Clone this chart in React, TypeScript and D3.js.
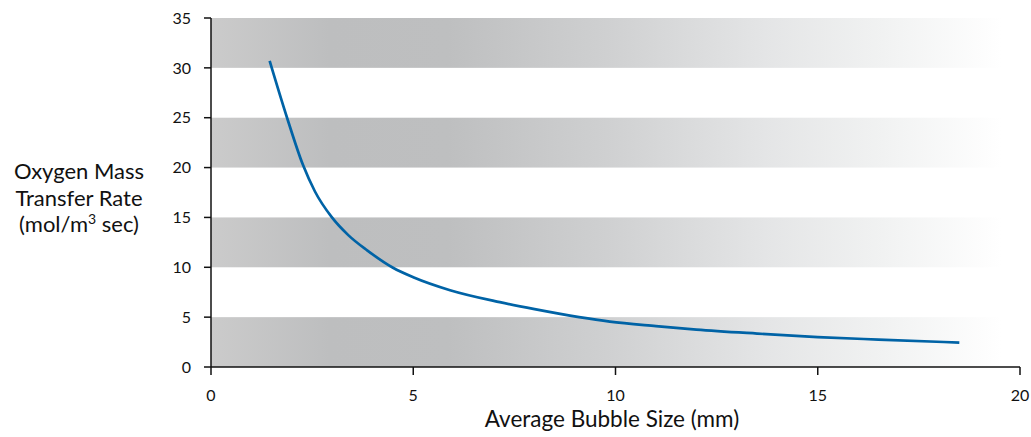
import React from "react";
import * as d3 from "d3";

const xTicks = [0, 5, 10, 15, 20];
const yTicks = [0, 5, 10, 15, 20, 25, 30, 35];
const bands: [number, number][] = [[0, 5], [10, 15], [20, 25], [30, 35]];
const bubbleSize = [1.45, 1.88, 2.27, 2.57, 2.99, 3.4, 3.86, 4.5, 5.0, 5.91, 7.14, 8.0, 9.1, 9.86, 11, 12, 13.5, 15, 16.5, 18.5];
const transferRate = [30.7, 25, 20.3, 17.6, 15, 13.2, 11.7, 9.95, 9.0, 7.7, 6.5, 5.8, 5.0, 4.55, 4.1, 3.75, 3.35, 3.0, 2.75, 2.45];
const gradStops: [number, string][] = [
  [0, "#cbcbcb"], [0.15, "#bdbebf"], [0.3, "#bebfc0"], [0.5, "#cfd0d1"],
  [0.7, "#e4e5e6"], [0.85, "#f1f2f2"], [1, "#ffffff"],
];

export default function App() {
  const W = 1031, H = 437;
  const x = d3.scaleLinear().domain([0, 20]).range([211, 1020]);
  const y = d3.scaleLinear().domain([0, 35]).range([367, 18]);
  const pts = bubbleSize.map((b, i) => [b, transferRate[i]] as [number, number]);
  const line = d3.line<[number, number]>().x(d => x(d[0])).y(d => y(d[1])).curve(d3.curveMonotoneX);
  const font = "Lato, 'Open Sans', sans-serif";
  const bandEnd = 19.55;
  return (
    <svg width={W} height={H} style={{ position: "absolute", left: 0, top: 0 }} fontFamily={font}>
      <defs>
        <linearGradient id="bandGrad" gradientUnits="userSpaceOnUse" x1={x(0)} x2={x(bandEnd)} y1={0} y2={0}>
          {gradStops.map(([o, c], i) => <stop key={i} offset={o} stopColor={c} />)}
        </linearGradient>
      </defs>
      {bands.map(([a, b], i) => (
        <rect key={i} x={x(0)} y={y(b)} width={x(bandEnd) - x(0)} height={y(a) - y(b)} fill="url(#bandGrad)" />
      ))}
      <path d={line(pts) || ""} fill="none" stroke="#0063a6" strokeWidth={2.7} strokeLinecap="butt" />
      <line x1={x(0)} x2={x(0)} y1={y(35)} y2={y(0)} stroke="#111" strokeWidth={1.5} />
      <line x1={x(0)} x2={x(20)} y1={y(0)} y2={y(0)} stroke="#111" strokeWidth={1.5} />
      {yTicks.map(t => (
        <g key={t}>
          <line x1={x(0) - 7} x2={x(0)} y1={y(t)} y2={y(t)} stroke="#111" strokeWidth={1.5} />
          <text x={x(0) - 20} y={y(t)} dy="0.36em" textAnchor="end" fontSize={16} fill="#111">{t}</text>
        </g>
      ))}
      {xTicks.map(t => (
        <g key={t}>
          <line x1={x(t)} x2={x(t)} y1={y(0)} y2={y(0) + 8} stroke="#111" strokeWidth={1.5} />
          <text x={x(t)} y={401} textAnchor="middle" fontSize={16} fill="#111">{t}</text>
        </g>
      ))}
      <text x={612} y={427} textAnchor="middle" fontSize={22.5} fill="#111">Average Bubble Size (mm)</text>
      <g fontSize={22} fill="#111" textAnchor="middle">
        <text x={79} y={179}>Oxygen Mass</text>
        <text x={79} y={205.5}>Transfer Rate</text>
        <text x={79} y={232}>(mol/m<tspan fontSize={14} dy={-8}>3</tspan><tspan dy={8}> sec)</tspan></text>
      </g>
    </svg>
  );
}
